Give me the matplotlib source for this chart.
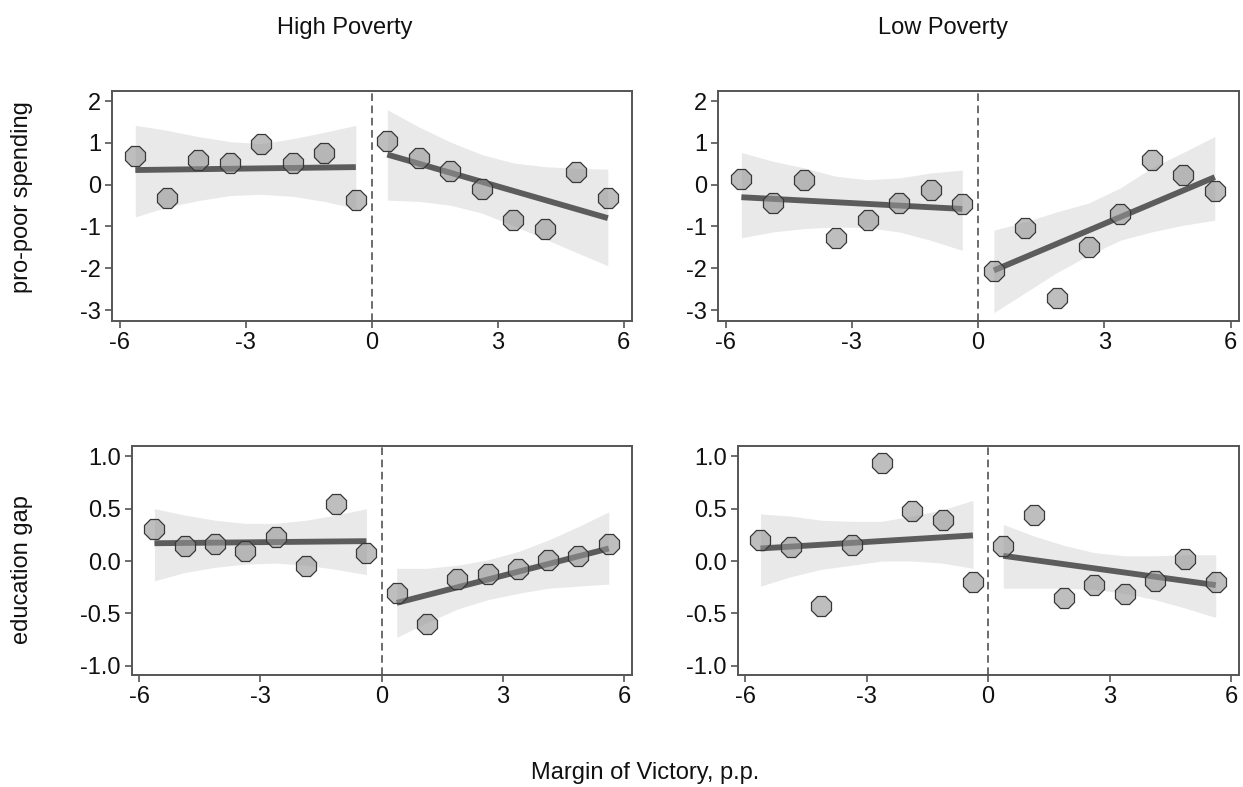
import matplotlib
matplotlib.use("Agg")
import matplotlib.pyplot as plt
import numpy as np

plt.rcParams['font.family'] = ['Liberation Sans', 'DejaVu Sans']

# bin centres of the margin of victory (p.p.), either side of the cutoff
x_left = [-5.625, -4.875, -4.125, -3.375, -2.625, -1.875, -1.125, -0.375]
x_right = [0.375, 1.125, 1.875, 2.625, 3.375, 4.125, 4.875, 5.625]

# high poverty, pro-poor spending
hp_spend_l = [0.68, -0.33, 0.60, 0.53, 0.98, 0.52, 0.76, -0.37]
hp_spend_r = [1.04, 0.64, 0.33, -0.10, -0.85, -1.07, 0.30, -0.33]
hp_spend_l_fit = [0.35, 0.42]
hp_spend_r_fit = [0.72, -0.80]
hp_spend_l_hi = [1.42, 1.30, 1.15, 1.03, 0.98, 1.10, 1.25, 1.42]
hp_spend_l_lo = [-0.77, -0.54, -0.38, -0.26, -0.23, -0.28, -0.40, -0.57]
hp_spend_r_hi = [1.79, 1.38, 1.02, 0.72, 0.52, 0.43, 0.39, 0.37]
hp_spend_r_lo = [-0.37, -0.40, -0.49, -0.68, -0.98, -1.30, -1.62, -1.94]

# low poverty, pro-poor spending
lp_spend_l = [0.14, -0.43, 0.10, -1.27, -0.85, -0.44, -0.13, -0.47]
lp_spend_r = [-2.06, -1.03, -2.70, -1.49, -0.69, 0.59, 0.22, -0.16]
lp_spend_l_fit = [-0.30, -0.58]
lp_spend_r_fit = [-2.05, 0.18]
lp_spend_l_hi = [0.77, 0.56, 0.40, 0.20, 0.12, 0.16, 0.28, 0.35]
lp_spend_l_lo = [-1.27, -1.13, -1.05, -1.01, -1.03, -1.13, -1.33, -1.57]
lp_spend_r_hi = [-1.09, -0.89, -0.65, -0.44, -0.08, 0.40, 0.77, 1.15]
lp_spend_r_lo = [-3.06, -2.58, -2.10, -1.69, -1.33, -1.13, -0.97, -0.85]

# high poverty, education gap
hp_edu_l = [0.31, 0.14, 0.16, 0.10, 0.23, -0.05, 0.55, 0.08]
hp_edu_r = [-0.31, -0.60, -0.17, -0.12, -0.08, 0.01, 0.05, 0.16]
hp_edu_l_fit = [0.17, 0.19]
hp_edu_r_fit = [-0.40, 0.12]
hp_edu_l_hi = [0.50, 0.44, 0.39, 0.36, 0.36, 0.39, 0.44, 0.50]
hp_edu_l_lo = [-0.19, -0.11, -0.06, -0.03, -0.02, -0.04, -0.08, -0.13]
hp_edu_r_hi = [-0.07, -0.07, -0.04, 0.01, 0.09, 0.20, 0.33, 0.47]
hp_edu_r_lo = [-0.73, -0.59, -0.46, -0.37, -0.31, -0.26, -0.24, -0.22]

# low poverty, education gap
lp_edu_l = [0.20, 0.13, -0.43, 0.15, 0.94, 0.48, 0.39, -0.20]
lp_edu_r = [0.14, 0.44, -0.35, -0.23, -0.32, -0.19, 0.02, -0.20]
lp_edu_l_fit = [0.12, 0.245]
lp_edu_r_fit = [0.05, -0.23]
lp_edu_l_hi = [0.45, 0.43, 0.39, 0.38, 0.38, 0.43, 0.49, 0.58]
lp_edu_l_lo = [-0.24, -0.15, -0.08, -0.04, 0.00, 0.00, -0.02, -0.07]
lp_edu_r_hi = [0.35, 0.24, 0.15, 0.08, 0.05, 0.05, 0.06, 0.06]
lp_edu_r_lo = [-0.26, -0.26, -0.26, -0.27, -0.31, -0.37, -0.45, -0.54]

x_ticks = [-6, -3, 0, 3, 6]
spend_ticks = [-3, -2, -1, 0, 1, 2]
edu_ticks = [-1.0, -0.5, 0.0, 0.5, 1.0]

column_titles = ["High Poverty", "Low Poverty"]
row_labels = ["pro-poor spending", "education gap"]
x_title = "Margin of Victory, p.p."

FRAME = '#555555'
BAND = '#e9e9e9'
FIT = '#5c5c5c'


def draw_side(ax, xs, ys, fit, hi, lo):
    ax.fill_between(xs, lo, hi, color=BAND, lw=0, zorder=1)
    ax.plot([xs[0], xs[-1]], fit, color=FIT, lw=4.2, solid_capstyle='butt', zorder=2)
    ax.plot(xs, ys, ls='none', marker='8', ms=16, mfc=(0.58, 0.58, 0.58, 0.6),
            mec='#383838', mew=0.9, zorder=3)


def style_axes(ax, yticks, ylim, ylabels):
    ax.set_xlim(-6.18, 6.2)
    ax.set_ylim(*ylim)
    ax.set_xticks(x_ticks)
    ax.set_xticklabels([str(t) for t in x_ticks])
    ax.set_yticks(yticks)
    ax.set_yticklabels(ylabels)
    ax.axvline(0, color='#444444', lw=1.1, ls=(0, (5, 3)), zorder=2)
    for s in ax.spines.values():
        s.set_color(FRAME)
        s.set_linewidth(1.4)
    ax.tick_params(axis='both', direction='out', length=5, width=1.2, color=FRAME,
                   labelsize=17, pad=3, labelcolor='#111111')


fig = plt.figure(figsize=(12.43, 7.87), dpi=100)

W, H = 1243.0, 787.0
# axes boxes in pixels: left, top, right, bottom
boxes = [
    (112, 91, 632, 321),
    (718, 91, 1239, 321),
    (132, 446, 632, 675),
    (738, 446, 1239, 675),
]
axes = []
for (l, t, r, b) in boxes:
    axes.append(fig.add_axes([l / W, 1 - b / H, (r - l) / W, (b - t) / H]))

spend_lbl = [str(t) for t in spend_ticks]
edu_lbl = ["%.1f" % t for t in edu_ticks]

ax = axes[0]
draw_side(ax, x_left, hp_spend_l, hp_spend_l_fit, hp_spend_l_hi, hp_spend_l_lo)
draw_side(ax, x_right, hp_spend_r, hp_spend_r_fit, hp_spend_r_hi, hp_spend_r_lo)
style_axes(ax, spend_ticks, (-3.26, 2.24), spend_lbl)

ax = axes[1]
draw_side(ax, x_left, lp_spend_l, lp_spend_l_fit, lp_spend_l_hi, lp_spend_l_lo)
draw_side(ax, x_right, lp_spend_r, lp_spend_r_fit, lp_spend_r_hi, lp_spend_r_lo)
style_axes(ax, spend_ticks, (-3.26, 2.24), spend_lbl)

ax = axes[2]
draw_side(ax, x_left, hp_edu_l, hp_edu_l_fit, hp_edu_l_hi, hp_edu_l_lo)
draw_side(ax, x_right, hp_edu_r, hp_edu_r_fit, hp_edu_r_hi, hp_edu_r_lo)
style_axes(ax, edu_ticks, (-1.09, 1.10), edu_lbl)

ax = axes[3]
draw_side(ax, x_left, lp_edu_l, lp_edu_l_fit, lp_edu_l_hi, lp_edu_l_lo)
draw_side(ax, x_right, lp_edu_r, lp_edu_r_fit, lp_edu_r_hi, lp_edu_r_lo)
style_axes(ax, edu_ticks, (-1.09, 1.10), edu_lbl)

# column titles, row labels and the shared x title
fig.text(345 / W, 1 - 28 / H, column_titles[0], ha='center', va='center', fontsize=17, color='#111111')
fig.text(943 / W, 1 - 28 / H, column_titles[1], ha='center', va='center', fontsize=17, color='#111111')
fig.text(22 / W, 1 - 197 / H, row_labels[0], ha='center', va='center', rotation=90, fontsize=17, color='#111111')
fig.text(22 / W, 1 - 570 / H, row_labels[1], ha='center', va='center', rotation=90, fontsize=17, color='#111111')
fig.text(645 / W, 1 - 773 / H, x_title, ha='center', va='center', fontsize=17, color='#111111')

fig.savefig('out.png', dpi=100)
